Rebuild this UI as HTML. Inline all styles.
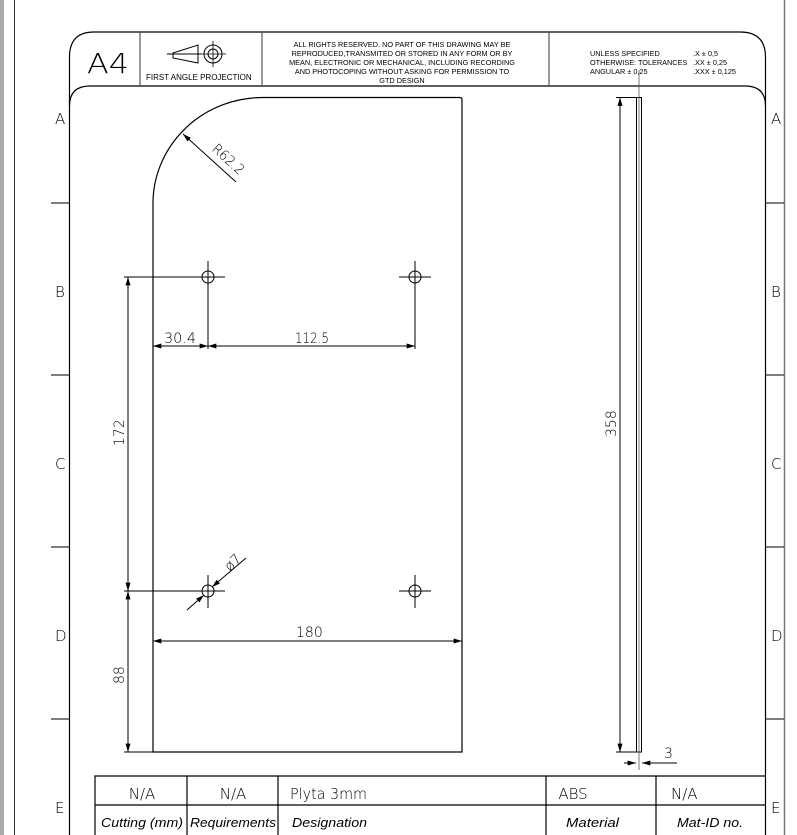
<!DOCTYPE html>
<html><head><meta charset="utf-8"><style>
html,body{margin:0;padding:0;background:#fff;width:797px;height:835px;overflow:hidden}
svg{display:block}
text{font-family:"DejaVu Sans","Liberation Sans",sans-serif;fill:#000}
.a{font-family:"Liberation Sans",sans-serif}
</style></head><body>
<svg width="797" height="835" viewBox="0 0 797 835" xmlns="http://www.w3.org/2000/svg">
<defs>
<marker id="ar" viewBox="0 0 10 6" refX="10" refY="3" markerWidth="10" markerHeight="5" orient="auto-start-reverse" markerUnits="userSpaceOnUse"><path d="M0,0 L10,3 L0,6z" fill="#000"/></marker>
</defs>
<rect x="0" y="0" width="4" height="835" fill="#aaa"/>
<line x1="14.5" y1="0" x2="14.5" y2="835" stroke="#333" stroke-width="1"/>
<line x1="784.5" y1="0" x2="784.5" y2="835" stroke="#777" stroke-width="1.5"/>
<g stroke="#000" fill="none" stroke-width="1.2">
<path d="M69.5,835 V57 Q69.5,32 94,32 H740 Q765.5,32 765.5,57 V835"/>
<path d="M69.5,106 Q69.5,86 90,86 H745 Q765.5,86 765.5,106"/>
<line x1="140" y1="32" x2="140" y2="86" stroke="#555"/>
<line x1="262" y1="32" x2="262" y2="86" stroke="#555"/>
<line x1="549" y1="32" x2="549" y2="86" stroke="#555"/>
<g stroke="#333">
<line x1="51" y1="203" x2="69" y2="203"/><line x1="51" y1="375" x2="69" y2="375"/><line x1="51" y1="547" x2="69" y2="547"/><line x1="51" y1="719" x2="69" y2="719"/>
<line x1="766" y1="203" x2="784" y2="203"/><line x1="766" y1="375" x2="784" y2="375"/><line x1="766" y1="547" x2="784" y2="547"/><line x1="766" y1="719" x2="784" y2="719"/>
</g>
<path d="M95,835 V776 H765 M95,805 H765 M187,776 V835 M278,776 V835 M546,776 V835 M656,776 V835"/>
<path d="M173,53 L198,45 V63 L173,58 Z M167,54 H202" stroke-width="1"/>
<circle cx="213" cy="54" r="9" stroke-width="1"/><circle cx="213" cy="54" r="5" stroke-width="1"/>
<path d="M201,54 H226 M213,41 V67" stroke-width="0.8"/>
<path d="M153,752 V205 A110,106 0 0 1 265,97.5 H460 Q462,97.5 462,100 V752 Z"/>
<g stroke-width="1">
<circle cx="208" cy="277" r="6"/><circle cx="415" cy="277" r="6"/><circle cx="208" cy="591" r="6"/><circle cx="415" cy="591" r="6"/>
<path d="M208,261 V349 M190,277 H225 M399,277 H431 M415,261 V349"/>
<path d="M124,277 H201 M124,591 H225 M208,575 V608 M399,591 H431 M415,575 V608 M124,752 H208"/>
</g>
</g>
<g stroke="#000" stroke-width="1" fill="none">
<line x1="153" y1="346" x2="208" y2="346" marker-start="url(#ar)" marker-end="url(#ar)"/>
<line x1="208" y1="346" x2="415" y2="346" marker-start="url(#ar)" marker-end="url(#ar)"/>
<line x1="128" y1="277" x2="128" y2="591" marker-start="url(#ar)" marker-end="url(#ar)"/>
<line x1="128" y1="591" x2="128" y2="752" marker-start="url(#ar)" marker-end="url(#ar)"/>
<line x1="153" y1="641" x2="462" y2="641" marker-start="url(#ar)" marker-end="url(#ar)"/>
<line x1="236" y1="182" x2="183" y2="134" marker-end="url(#ar)"/>
<line x1="246" y1="558" x2="212" y2="587" marker-end="url(#ar)"/>
<line x1="187" y1="610" x2="204" y2="595" marker-end="url(#ar)"/>
<line x1="636.5" y1="97.5" x2="636.5" y2="752"/>
<line x1="641.5" y1="97.5" x2="641.5" y2="752"/>
<line x1="636" y1="97.5" x2="642" y2="97.5"/>
<line x1="636" y1="752" x2="642" y2="752"/>
<line x1="639" y1="70" x2="639" y2="770" stroke-width="0.7" stroke="#444"/>
<line x1="616" y1="97.5" x2="636" y2="97.5"/>
<line x1="616" y1="752" x2="636" y2="752"/>
<line x1="620" y1="97.5" x2="620" y2="752" marker-start="url(#ar)" marker-end="url(#ar)"/>
<line x1="624" y1="763" x2="636" y2="763" marker-end="url(#ar)"/>
<line x1="655" y1="763" x2="642" y2="763" marker-end="url(#ar)"/>
<line x1="642" y1="763" x2="677" y2="763"/>
</g>
<text x="87" y="73" font-size="28" font-weight="200" textLength="42" lengthAdjust="spacingAndGlyphs" fill="#222">A4</text>
<text x="146" y="80" font-size="8" class="a">FIRST ANGLE PROJECTION</text>
<g class="a" font-size="7.3" text-anchor="middle">
<text x="402" y="47" class="a">ALL RIGHTS RESERVED. NO PART OF THIS DRAWING MAY BE</text>
<text x="402" y="56" class="a">REPRODUCED,TRANSMITED OR STORED IN ANY FORM OR BY</text>
<text x="402" y="65" class="a">MEAN, ELECTRONIC OR MECHANICAL, INCLUDING RECORDING</text>
<text x="402" y="74" class="a">AND PHOTOCOPING WITHOUT ASKING FOR PERMISSION TO</text>
<text x="402" y="83" class="a">GTD DESIGN</text>
</g>
<g font-size="7.3">
<text x="590" y="56" class="a">UNLESS SPECIFIED</text><text x="693" y="56" class="a">.X ± 0,5</text>
<text x="590" y="65" class="a">OTHERWISE: TOLERANCES</text><text x="693" y="65" class="a">.XX ± 0,25</text>
<text x="590" y="74" class="a">ANGULAR ± 0,25</text><text x="693" y="74" class="a">.XXX ± 0,125</text>
</g>
<g font-size="15" fill="#222" font-weight="200">
<text x="55" y="124">A</text><text x="55" y="297">B</text><text x="55" y="469">C</text><text x="55" y="641">D</text><text x="55" y="813">E</text>
<text x="771" y="124">A</text><text x="771" y="297">B</text><text x="771" y="469">C</text><text x="771" y="641">D</text><text x="771" y="813">E</text>
</g>
<g font-size="14" font-weight="200">
<text x="164" y="343" textLength="32" lengthAdjust="spacingAndGlyphs">30.4</text>
<text x="295" y="343" textLength="34" lengthAdjust="spacingAndGlyphs">112.5</text>
<text x="296" y="637">180</text>
<text transform="translate(124,446) rotate(-90)">172</text>
<text transform="translate(124,684) rotate(-90)">88</text>
<text transform="translate(616,437) rotate(-90)">358</text>
<text x="664" y="758">3</text>
<text transform="translate(211,150) rotate(42)" textLength="38" lengthAdjust="spacingAndGlyphs">R62.2</text>
<text transform="translate(230,572) rotate(-45)">ø7</text>
</g>
<g font-size="15" font-weight="200" text-anchor="middle">
<text x="142" y="799">N/A</text><text x="233" y="799">N/A</text>
<text x="573" y="799">ABS</text>
</g>
<text x="290" y="799" font-size="15" font-weight="200" textLength="77" lengthAdjust="spacingAndGlyphs">Plyta 3mm</text>
<text x="671" y="799" font-size="15" font-weight="200">N/A</text>
<g font-size="13" font-style="italic" class="a">
<text x="101" y="827" class="a" textLength="82" lengthAdjust="spacingAndGlyphs">Cutting (mm)</text>
<text x="190" y="827" class="a" textLength="86" lengthAdjust="spacingAndGlyphs">Requirements</text>
<text x="566" y="827" class="a" textLength="53" lengthAdjust="spacingAndGlyphs">Material</text>
<text x="677" y="827" class="a" textLength="66" lengthAdjust="spacingAndGlyphs">Mat-ID no.</text>
<text x="292" y="827" class="a" textLength="75" lengthAdjust="spacingAndGlyphs">Designation</text>
</g>
</svg>
</body></html>
